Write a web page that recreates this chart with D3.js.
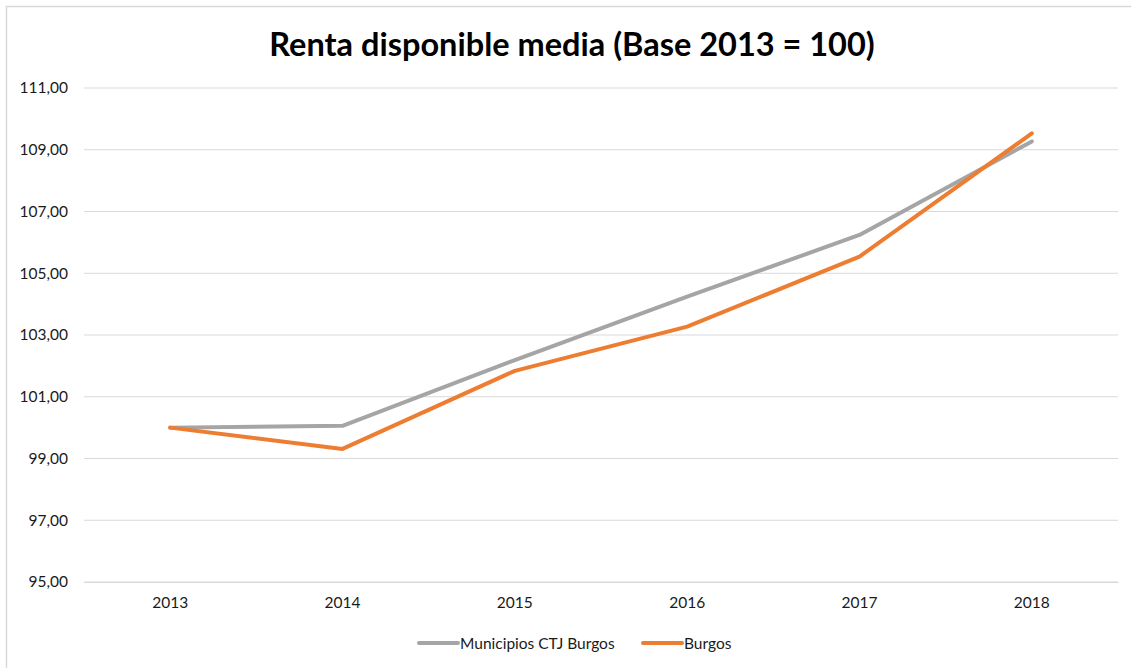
<!DOCTYPE html>
<html>
<head>
<meta charset="utf-8">
<script src="https://cdn.jsdelivr.net/npm/d3@7"></script>
<style>
	body { margin: 0; background: #fff; }
	svg text { font-family: Lato, "Open Sans", sans-serif; fill: #1a1a1a; }
</style>
</head>
<body>
<svg id="chart" width="1131" height="668"></svg>
<script>
// data
var years = ["2013", "2014", "2015", "2016", "2017", "2018"];
var municipios = [100.00, 100.06, 102.19, 104.24, 106.24, 109.27];
var burgos = [100.00, 99.31, 101.84, 103.27, 105.54, 109.53];
var yTicks = [95, 97, 99, 101, 103, 105, 107, 109, 111];
var seriesNames = ["Municipios CTJ Burgos", "Burgos"];
var seriesColors = ["#A5A5A5", "#ED7D31"];

var svg = d3.select("#chart");

// outer chart border
svg.append("rect").attr("x", 6.5).attr("y", 6.5)
	.attr("width", 1140).attr("height", 680)
	.attr("fill", "none").attr("stroke", "#d9d9d9").attr("stroke-width", 1.5);

svg.append("text").attr("x", 572).attr("y", 56)
	.attr("text-anchor", "middle")
	.style("font-size", "32.5px").style("font-weight", "bold")
	.style("fill", "#000")
	.text("Renta disponible media (Base 2013 = 100)");

var x = d3.scaleBand().domain(years).range([84, 1118]);
var y = d3.scaleLinear().domain([95, 111]).range([582, 88]);

// gridlines
svg.append("g").selectAll("line").data(yTicks).enter().append("line")
	.attr("x1", 84).attr("x2", 1118)
	.attr("y1", function(d) { return y(d); })
	.attr("y2", function(d) { return y(d); })
	.attr("stroke", "#d9d9d9").attr("stroke-width", 1);

var fmt = function(d) { return d3.format(".2f")(d).replace(".", ","); };

var yAxis = svg.append("g").attr("transform", "translate(84,0)")
	.call(d3.axisLeft(y).tickValues(yTicks).tickFormat(fmt).tickSize(0).tickPadding(16));
yAxis.select(".domain").remove();
yAxis.selectAll("text").style("font-size", "15.5px");

var xAxis = svg.append("g").attr("transform", "translate(0,582)")
	.call(d3.axisBottom(x).tickSize(0).tickPadding(15));
xAxis.select(".domain").attr("stroke", "#d9d9d9");
xAxis.selectAll("text").style("font-size", "15.5px");

var line = d3.line()
	.x(function(d, i) { return x(years[i]) + x.bandwidth() / 2; })
	.y(function(d) { return y(d); });

[municipios, burgos].forEach(function(s, i) {
	svg.append("path").datum(s)
		.attr("d", line)
		.attr("fill", "none")
		.attr("stroke", seriesColors[i])
		.attr("stroke-width", 4)
		.attr("stroke-linecap", "round")
		.attr("stroke-linejoin", "round");
});

// legend
var legendX = [418, 642];
seriesNames.forEach(function(name, i) {
	var g = svg.append("g").attr("transform", "translate(" + legendX[i] + ",643)");
	g.append("line").attr("x1", 1).attr("x2", 40)
		.attr("stroke", seriesColors[i]).attr("stroke-width", 4)
		.attr("stroke-linecap", "round");
	g.append("text").attr("x", 42).attr("y", 6)
		.style("font-size", "15.5px")
		.text(name);
});
</script>
</body>
</html>
